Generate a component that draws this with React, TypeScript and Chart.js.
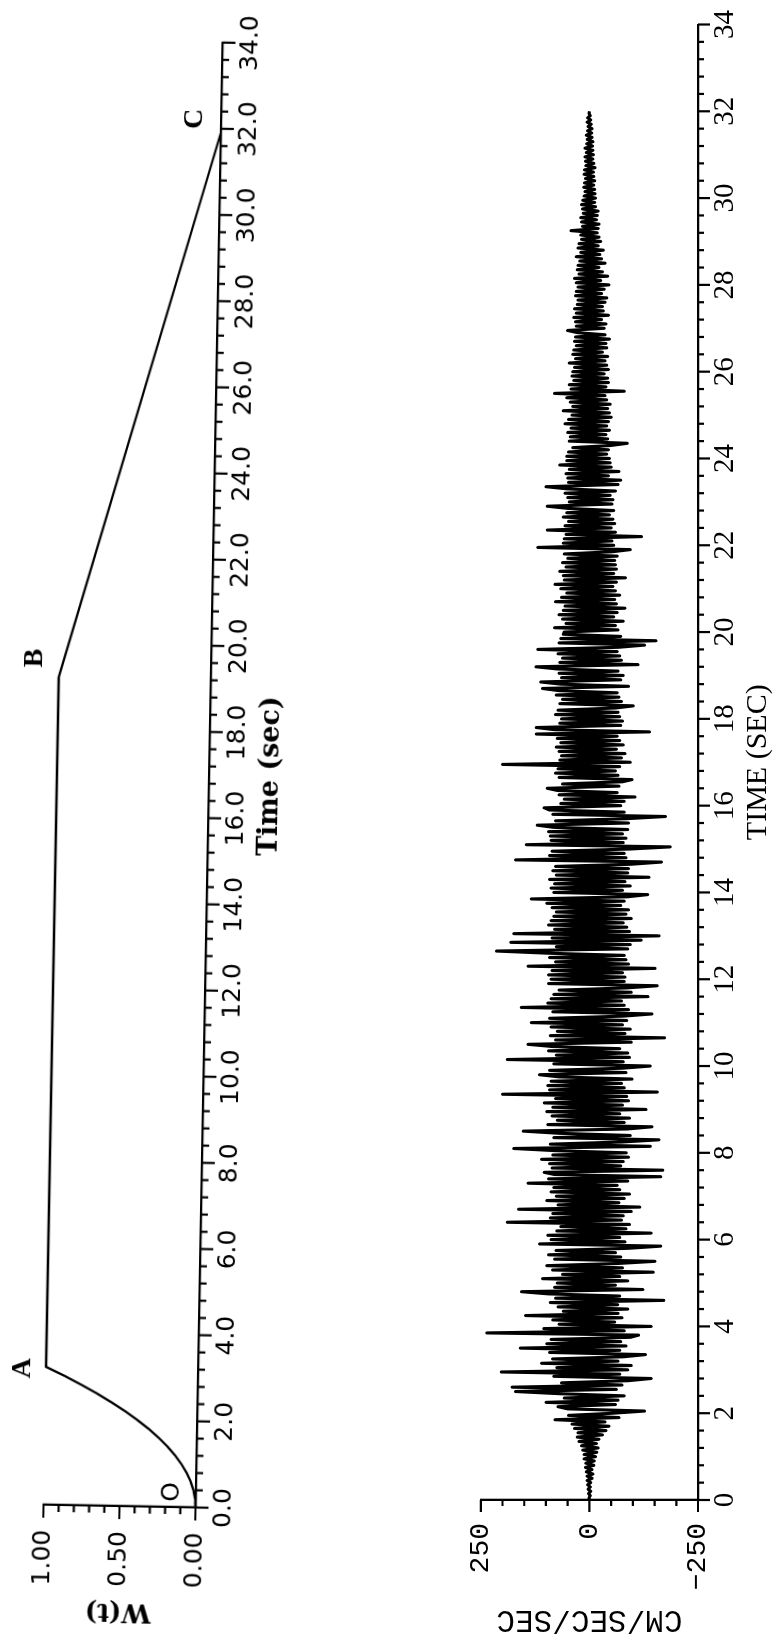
import React, { useEffect, useRef } from 'react';
import { Chart, registerables } from 'chart.js';

Chart.register(...registerables);

// ---------------- Top panel: envelope function W(t) ----------------
const envelopeTime = [0, 0.2, 0.4, 0.6, 0.8, 1.0, 1.2, 1.4, 1.6, 1.8, 2.0, 2.2, 2.4, 2.6, 2.8, 3.0, 3.2, 19.2, 31.9];
const envelopeW = [0, 0.004, 0.016, 0.035, 0.063, 0.098, 0.141, 0.191, 0.25, 0.316, 0.391, 0.473, 0.563, 0.66, 0.766, 0.879, 1.0, 1.0, 0];

const envelopeLabelText = ['O', 'A', 'B', 'C'];
const envelopeLabelTime = [0.35, 3.16, 19.64, 32.22];
const envelopeLabelW = [0.157, 1.151, 1.159, 0.172];

const topTimeTicks = [0, 2, 4, 6, 8, 10, 12, 14, 16, 18, 20, 22, 24, 26, 28, 30, 32, 34];
const topTimeTickLabels = ['0.0', '2.0', '4.0', '6.0', '8.0', '10.0', '12.0', '14.0', '16.0', '18.0', '20.0', '22.0', '24.0', '26.0', '28.0', '30.0', '32.0', '34.0'];
const topWTicks = [0, 0.5, 1];
const topWTickLabels = ['0.00', '0.50', '1.00'];

// ---------------- Bottom panel: accelerogram (cm/sec/sec), one sample every 0.05 s ----------------
const accelStep = 0.05;
const accel00to04 = [
  0, 1, -2, 2, -3, 3, -2, 4, -3, 5,
  -6, 5, -8, 7, -6, 9, -10, 8, -11, 12,
  -14, 12, -17, 15, -20, 18, -16, 24, -22, 28,
  -30, 26, -38, 34, -45, 40, -36, 79, -68, 48,
  -55, -127, 50, 72, -60, 100, -66, 58, -80, 70,
  170, -62, 178, -75, 64, -90, -142, 82, -70, 203,
  -88, 75, -96, 110, -66, 85, -78, -129, 92, -70,
  159, -84, 98, -72, 88, -95, -113, 236, -80, 105,
];
const accel04to08 = [
  -142, 70, -58, 84, -75, 147, -66, 60, -88, 72,
  -65, 90, -171, 78, -70, 95, 156, -123, 80, -60,
  74, -88, 108, -70, 62, -147, 85, -76, 98, -65,
  -151, 80, -72, 94, -60, 77, -90, -164, 115, -82,
  88, -70, 96, -142, 75, -84, 66, -92, 189, -74,
  90, -78, 84, -96, 163, -116, 72, -68, 98, -80,
  76, -92, 88, -70, 82, -64, 141, -88, 94, -164,
  80, 104, -169, 86, -72, 92, -78, 110, -90, 84,
];
const accel08to12 = [
  -85, 78, 174, -140, 90, -76, -160, 82, -94, 70,
  152, -88, -144, 96, -80, 74, -92, 86, -70, 98,
  -130, 84, -76, 104, -90, 78, -86, 200, -156, 92,
  -80, 96, -74, 88, -98, 70, 115, -84, 92, -76,
  -140, 82, -78, 189, -92, 76, -88, 94, -70, 86,
  141, -96, 78, -173, 90, -82, 74, -94, 88, -76,
  134, -86, 92, -78, -144, 84, -90, 157, -80, 96,
  -74, 88, -135, 82, -96, 70, -86, -156, 94, -80,
];
const accel12to16 = [
  88, -82, 94, -76, 86, -151, 141, -90, 78, -84,
  92, -80, 96, 214, -88, 76, -94, 181, -119, 86,
  -160, 174, -92, 80, -86, 94, -78, 88, -96, 82,
  -84, 76, -90, 86, -72, 98, -80, 134, -88, -134,
  82, -76, 88, -94, 80, -82, 92, -137, 76, -88,
  84, -90, 78, -96, -166, 170, -84, 92, -80, 86,
  -92, -186, 145, -78, 88, -84, 90, -76, 94, -88,
  82, 120, -90, 78, -86, -175, 84, -80, 92, 104,
];
const accel16to20 = [
  -72, 66, -80, 58, -105, 70, -64, 74, 97, -68,
  62, -76, -98, 70, -66, 78, -60, 72, -70, 200,
  -94, 68, -74, 64, -82, 70, -62, 76, -78, 66,
  -70, 74, -64, 122, -138, 80, 122, -72, 68, -76,
  64, -70, 78, -66, 72, -60, -101, 68, -74, 62,
  -68, 76, -64, 70, 108, -90, 66, 112, -72, 64,
  -78, 70, -66, 74, 123, -112, 68, -74, 62, -70,
  72, -64, 119, -68, -127, 70, -153, 66, -72, 60,
];
const accel20to24 = [
  58, -66, 80, -60, 54, -78, 62, -56, 70, -64,
  60, -82, 56, -62, 78, -58, 64, -70, 52, -60,
  66, -54, 79, -62, 58, -83, 60, -56, 68, -62,
  54, -60, 62, -58, 50, -64, 58, -52, -94, 119,
  -56, 60, -52, 58, -120, 54, -60, 97, -50, 56,
  -58, 48, -54, 60, -46, 52, -56, 50, 97, -52,
  46, -54, 50, -48, 56, -60, 52, 100, -66, 48,
  -72, 50, -44, 54, -68, 46, -50, 68, -48, 52,
];
const accel24to28 = [
  -46, 52, -40, 48, -44, 38, -50, -87, 46, -42,
  44, -38, 50, -46, 42, -40, 56, -44, 48, -50,
  40, -46, 60, -42, 38, -48, 44, -40, 52, -36,
  80, -80, 42, -38, 46, -44, 36, -42, 40, -34,
  38, -44, 34, -40, 46, -36, 32, -42, 38, -30,
  36, -40, 30, -38, 34, -46, 32, -36, 28, 50,
  -34, 30, -38, 32, -28, 36, -44, 30, -32, 34,
  -30, 28, -36, 26, -40, 32, -28, 30, -34, 26,
];
const accel28to32 = [
  -45, 30, -26, 34, -42, 24, -30, 28, -22, 26,
  -36, 22, -28, 30, -24, 20, -32, 26, -20, 24,
  -26, 18, -22, 20, -18, 42, -20, 16, -22, 18,
  -16, 20, -18, 14, -20, 16, -14, 18, -12, 15,
  -14, 12, -13, 10, -12, 13, -10, 11, -12, 9,
  -10, 12, -9, 11, -13, 8, -10, 9, -8, 10,
  -9, 7, -8, 10, -7, 6, -8, 5, -6, 7,
  -5, 4, -6, 3, -4, 5, -3, 4, -2, 1,
];
const accelEnd = [0];

const bottomTimeTicks = [0, 2, 4, 6, 8, 10, 12, 14, 16, 18, 20, 22, 24, 26, 28, 30, 32, 34];
const bottomTimeTickLabels = ['0', '2', '4', '6', '8', '10', '12', '14', '16', '18', '20', '22', '24', '26', '28', '30', '32', '34'];
const bottomAccTicks = [-250, 0, 250];
const bottomAccTickLabels = ['\u2212250', '0', '250'];

// ---------------- helpers ----------------
function drawAxisTicks(chart: any, xFrom: number, xStep: number, xCount: number, yFrom: number, yStep: number, yCount: number, major: number, minor: number) {
  const { ctx, chartArea } = chart;
  const xs = chart.scales.x;
  const ys = chart.scales.y;
  ctx.save();
  ctx.strokeStyle = '#000';
  ctx.lineWidth = 2.2;
  ctx.beginPath();
  for (let k = 0; k <= xCount; k++) {
    const px = xs.getPixelForValue(xFrom + k * xStep);
    const len = k % 5 === 0 ? major : minor;
    ctx.moveTo(px, chartArea.bottom);
    ctx.lineTo(px, chartArea.bottom + len);
  }
  for (let k = 0; k <= yCount; k++) {
    const py = ys.getPixelForValue(yFrom + k * yStep);
    const len = k % 5 === 0 ? major : minor;
    ctx.moveTo(chartArea.left, py);
    ctx.lineTo(chartArea.left - len, py);
  }
  ctx.stroke();
  ctx.restore();
}

const topDecor = {
  id: 'topDecor',
  afterDraw(chart: any) {
    const { ctx, chartArea } = chart;
    const xs = chart.scales.x;
    const ys = chart.scales.y;
    drawAxisTicks(chart, 0, 0.4, 85, 0, 0.1, 10, 13, 7);
    ctx.save();
    ctx.fillStyle = '#000';
    ctx.textAlign = 'center';
    ctx.textBaseline = 'middle';
    ctx.font = 'bold 27px "DejaVu Serif"';
    ctx.fillText('Time (sec)', xs.getPixelForValue(17), chartArea.bottom + 62);
    envelopeLabelText.forEach((txt, i) => {
      ctx.font = txt === 'O' ? '25px "DejaVu Sans"' : 'bold 28px "Liberation Serif"';
      ctx.fillText(txt, xs.getPixelForValue(envelopeLabelTime[i]), ys.getPixelForValue(envelopeLabelW[i]));
    });
    ctx.translate(chartArea.left - 105, (chartArea.top + chartArea.bottom) / 2);
    ctx.rotate(-Math.PI / 2);
    ctx.font = 'bold 26px "DejaVu Serif"';
    ctx.fillText('W(t)', 0, 0);
    ctx.restore();
  },
};

const bottomDecor = {
  id: 'bottomDecor',
  afterDraw(chart: any) {
    const { ctx, chartArea } = chart;
    const xs = chart.scales.x;
    drawAxisTicks(chart, 0, 0.4, 85, -250, 50, 10, 12, 6);
    ctx.save();
    ctx.fillStyle = '#000';
    ctx.textAlign = 'center';
    ctx.textBaseline = 'middle';
    ctx.font = '30px "Liberation Serif"';
    ctx.fillText('TIME (SEC)', xs.getPixelForValue(17), chartArea.bottom + 60);
    ctx.translate(chartArea.left - 119, (chartArea.top + chartArea.bottom) / 2);
    ctx.rotate(-Math.PI / 2);
    ctx.font = '31px "Liberation Mono"';
    ctx.fillText('CM/SEC/SEC', 0, 0);
    ctx.restore();
  },
};

const TOP_TILT_DEG = -90 + 1.054;

export default function App() {
  const topRef = useRef<HTMLCanvasElement | null>(null);
  const bottomRef = useRef<HTMLCanvasElement | null>(null);

  useEffect(() => {
    const topCanvas = topRef.current!;
    const bottomCanvas = bottomRef.current!;

    const topChart = new Chart(topCanvas, {
      type: 'line',
      data: {
        datasets: [
          {
            data: envelopeTime.map((t, i) => ({ x: t, y: envelopeW[i] })),
            borderColor: '#000',
            borderWidth: 2.3,
            pointRadius: 0,
            tension: 0,
            fill: false,
            clip: false as any,
          },
        ],
      },
      options: {
        responsive: false,
        animation: false,
        events: [],
        devicePixelRatio: 1,
        layout: { padding: { left: 0, right: 40, top: 45, bottom: 0 } },
        plugins: { legend: { display: false }, tooltip: { enabled: false } },
        scales: {
          x: {
            type: 'linear',
            min: 0,
            max: 34,
            afterBuildTicks: (s: any) => { s.ticks = topTimeTicks.map((v) => ({ value: v })); },
            afterFit: (s: any) => { s.height = 100; },
            grid: { display: false, drawTicks: false },
            border: { display: true, color: '#000', width: 2.3 },
            ticks: {
              autoSkip: false,
              maxRotation: 0,
              padding: 13,
              color: '#000',
              font: { family: '"DejaVu Sans"', size: 25 },
              callback: (_v: any, i: number) => topTimeTickLabels[i],
            },
          },
          y: {
            type: 'linear',
            min: 0,
            max: 1,
            afterBuildTicks: (s: any) => { s.ticks = topWTicks.map((v) => ({ value: v })); },
            afterFit: (s: any) => { s.width = 130; },
            grid: { display: false, drawTicks: false },
            border: { display: true, color: '#000', width: 2.3 },
            ticks: {
              autoSkip: false,
              padding: 25,
              color: '#000',
              font: { family: '"DejaVu Sans"', size: 25 },
              callback: (_v: any, i: number) => topWTickLabels[i],
            },
          },
        },
      } as any,
      plugins: [topDecor],
    });

    const accelSeries = [
      ...accel00to04, ...accel04to08, ...accel08to12, ...accel12to16,
      ...accel16to20, ...accel20to24, ...accel24to28, ...accel28to32, ...accelEnd,
    ];

    const bottomChart = new Chart(bottomCanvas, {
      type: 'line',
      data: {
        datasets: [
          {
            data: accelSeries.map((v, i) => ({ x: i * accelStep, y: v })),
            borderColor: '#000',
            borderWidth: 3.1,
            borderJoinStyle: 'round',
            pointRadius: 0,
            tension: 0,
            fill: false,
          },
        ],
      },
      options: {
        responsive: false,
        animation: false,
        events: [],
        devicePixelRatio: 1,
        layout: { padding: { left: 0, right: 21, top: 30, bottom: 0 } },
        plugins: { legend: { display: false }, tooltip: { enabled: false } },
        scales: {
          x: {
            type: 'linear',
            min: 0,
            max: 34,
            afterBuildTicks: (s: any) => { s.ticks = bottomTimeTicks.map((v) => ({ value: v })); },
            afterFit: (s: any) => { s.height = 100; },
            grid: { display: false, drawTicks: false },
            border: { display: true, color: '#000', width: 2.3 },
            ticks: {
              autoSkip: false,
              maxRotation: 0,
              padding: 10,
              color: '#000',
              font: { family: '"Liberation Serif"', size: 29 },
              callback: (_v: any, i: number) => bottomTimeTickLabels[i],
            },
          },
          y: {
            type: 'linear',
            min: -250,
            max: 250,
            afterBuildTicks: (s: any) => { s.ticks = bottomAccTicks.map((v) => ({ value: v })); },
            afterFit: (s: any) => { s.width = 136; },
            grid: { display: false, drawTicks: false },
            border: { display: true, color: '#000', width: 2.3 },
            ticks: {
              autoSkip: false,
              padding: 23,
              color: '#000',
              font: { family: '"Liberation Mono"', size: 28 },
              callback: (_v: any, i: number) => bottomAccTickLabels[i],
            },
          },
        },
      } as any,
      plugins: [bottomDecor],
    });

    // place the top panel: origin (t=0, W=0) on the page, rotated a quarter turn with its slight tilt
    {
      const u0 = topChart.scales.x.getPixelForValue(0);
      const v0 = topChart.scales.y.getPixelForValue(0);
      const th = (TOP_TILT_DEG * Math.PI) / 180;
      const c = Math.cos(th);
      const s = Math.sin(th);
      const tx = 195.5 - (c * u0 - s * v0);
      const ty = 1507.5 - (s * u0 + c * v0);
      topCanvas.style.transform = `translate(${tx}px, ${ty}px) rotate(${TOP_TILT_DEG}deg)`;
    }
    // place the bottom panel: origin (t=0, -250) on the page
    {
      const u0 = bottomChart.scales.x.getPixelForValue(0);
      const v0 = bottomChart.scales.y.getPixelForValue(-250);
      bottomCanvas.style.transform = `translate(${698 - v0}px, ${1500 + u0}px) rotate(-90deg)`;
    }

    return () => {
      topChart.destroy();
      bottomChart.destroy();
    };
  }, []);

  const canvasStyle: React.CSSProperties = {
    position: 'absolute',
    left: 0,
    top: 0,
    transformOrigin: '0 0',
    display: 'block',
  };

  return (
    <div style={{ position: 'fixed', left: 0, top: 0, width: 775, height: 1636, overflow: 'hidden', background: '#fff' }}>
      <canvas ref={topRef} width={1636} height={297} style={{ ...canvasStyle, width: 1636, height: 297 }} />
      <canvas ref={bottomRef} width={1636} height={357} style={{ ...canvasStyle, width: 1636, height: 357 }} />
    </div>
  );
}
